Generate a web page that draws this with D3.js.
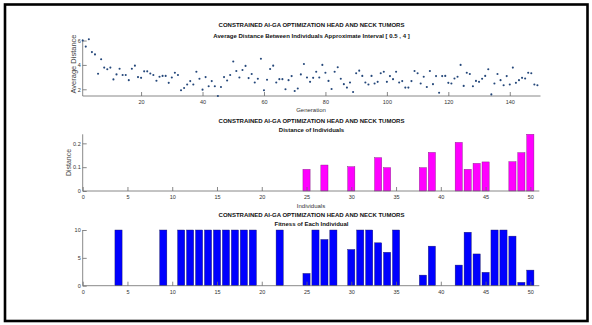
<!DOCTYPE html>
<html><head><meta charset="utf-8">
<script src="https://cdn.jsdelivr.net/npm/d3@7"></script>
<style>
html,body{margin:0;padding:0;background:#fff;}
svg{display:block;font-family:"Liberation Sans",Arial,sans-serif;}
</style></head>
<body>
<svg id="chart" width="592" height="325"></svg>
<script>
// ---- data ----
const mainTitle = "CONSTRAINED AI-GA OPTIMIZATION HEAD AND NECK TUMORS";
const subTitles = ["Average Distance Between Individuals Approximate Interval [ 0.5 , 4 ]",
                   "Distance of Individuals", "Fitness of Each Individual"];
const avgDistance = [
 6.0,5.5,6.1,5.05,4.86,3.27,4.47,3.78,3.64,3.78,
 2.81,3.22,3.69,3.17,3.17,2.75,3.69,3.94,3.0,2.94,
 3.47,3.47,3.3,3.17,2.7,3.03,3.1,3.1,2.53,2.97,
 3.36,3.17,1.92,2.1,2.39,2.67,2.39,3.44,2.86,1.97,
 3.0,2.25,2.67,2.25,1.45,2.19,3.0,2.72,3.17,4.28,
 3.5,2.97,3.58,3.92,2.92,3.25,2.56,2.86,4.5,1.92,
 2.78,3.67,3.94,2.56,2.83,2.83,2.0,2.75,3.08,1.86,
 2.06,3.22,4.08,2.97,2.61,2.94,3.44,2.97,4.0,3.36,
 2.69,2.03,3.44,3.81,2.86,2.42,2.14,2.56,1.78,3.31,
 3.53,3.1,2.56,2.39,3.1,2.47,2.61,3.31,3.44,2.61,
 3.08,2.83,3.44,2.56,2.67,2.14,2.14,2.67,3.5,3.31,
 2.47,3.03,2.19,3.5,2.42,3.08,1.72,3.08,3.1,2.53,
 2.47,2.89,3.03,4.0,2.28,3.36,3.25,2.25,2.69,2.61,
 2.86,3.1,3.64,1.58,2.47,3.25,2.75,2.33,3.08,2.39,
 3.78,2.53,2.75,2.94,2.89,3.36,3.31,2.39,2.33
];
const individuals = [1,2,3,4,5,6,7,8,9,10,11,12,13,14,15,16,17,18,19,20,21,22,23,24,25,
                     26,27,28,29,30,31,32,33,34,35,36,37,38,39,40,41,42,43,44,45,46,47,48,49,50];
const distance = [0,0,0,0,0,0,0,0,0,0, 0,0,0,0,0,0,0,0,0,0, 0,0,0,0,0.091,
                  0,0.109,0,0,0.102, 0,0,0.140,0.098,0, 0,0,0.098,0.162,0,
                  0,0.204,0.091,0.116,0.122, 0,0,0.123,0.161,0.238];
const fitness = [0,0,0,10,0,0,0,0,10,0, 10,10,10,10,10,10,10,10,10,0, 0,10,0,0,2.2,
                 10,8.3,10,0,6.5, 10,10,7.7,6.0,10, 0,0,1.9,7.1,0,
                 0,3.7,9.6,5.7,2.4, 10,10,8.9,0.6,2.8];
const genTicks = [20,40,60,80,100,120,140];
const avgTicks = [2,4,6];
const indTicks = [0,5,10,15,20,25,30,35,40,45,50];
const distTicks = [0,0.1,0.2];
const fitTicks = [0,5,10];

// ---- drawing ----
const svg = d3.select("#chart");
const axisCol = "#6a6a6a", textCol = "#333";
const xL = 82.7;

// frame
svg.append("rect").attr("x",5).attr("y",4.5).attr("width",582.5).attr("height",316.5)
  .attr("fill","none").attr("stroke","#000").attr("stroke-width",2.6);

function titles(y1, y2, sub){
  svg.append("text").attr("x",311.5).attr("y",y1).attr("text-anchor","middle")
    .attr("font-size",6).attr("font-weight","bold").attr("fill","#111").text(mainTitle);
  svg.append("text").attr("x",311.5).attr("y",y2).attr("text-anchor","middle")
    .attr("font-size",6).attr("font-weight","bold").attr("fill","#111").text(sub);
}

function axes(x, y, xt, yt, xfmt, yfmt){
  const [x0,x1] = x.range(), [y0,y1] = y.range();
  const gx = svg.append("g").attr("transform",`translate(0,${y0})`)
    .call(d3.axisBottom(x).tickValues(xt).tickSize(-4).tickPadding(4).tickFormat(xfmt));
  const gy = svg.append("g").attr("transform",`translate(${x0},0)`)
    .call(d3.axisLeft(y).tickValues(yt).tickSize(-4).tickPadding(2).tickFormat(yfmt));
  [gx,gy].forEach(g=>{
    g.select(".domain").attr("stroke",axisCol).attr("stroke-width",0.8);
    g.selectAll(".tick line").attr("stroke",axisCol).attr("stroke-width",0.8);
    g.selectAll(".tick text").attr("fill",textCol).attr("font-size",5.5)
      .attr("font-family","Liberation Sans, Arial, sans-serif");
  });
  gx.select(".domain").attr("d",`M${x0},0H${x1}`);
  gy.select(".domain").attr("d",`M0,${y0}V${y1}`);
}

// --- top: scatter ---
titles(27, 37.5, subTitles[0]);
const xg = d3.scaleLinear().domain([1,150]).range([xL,540.5]);
const ya = d3.scaleLinear().domain([1.45,6.1]).range([96,39.3]);
axes(xg, ya, genTicks, avgTicks, d3.format("d"), d3.format("d"));
svg.append("g").selectAll("circle").data(avgDistance).join("circle")
  .attr("cx",(d,i)=>xg(i+1)).attr("cy",d=>ya(d)).attr("r",1.05)
  .attr("fill","#24477a");
svg.append("text").attr("x",311).attr("y",112).attr("text-anchor","middle")
  .attr("font-size",6).attr("fill",textCol).text("Generation");
svg.append("text").attr("transform",`translate(75.5,64) rotate(-90)`).attr("text-anchor","middle")
  .attr("font-size",7.5).attr("fill","#444").text("Average Distance");

// --- middle: distance bars ---
titles(122.5, 131.5, subTitles[1]);
const xi = d3.scaleLinear().domain([0,51]).range([xL,539.3]);
const bw = 0.8*(xi(1)-xi(0));
const yd = d3.scaleLinear().domain([0,0.238]).range([191,134.3]);
svg.append("g").selectAll("rect").data(individuals.map((k,i)=>({k,v:distance[i]})).filter(d=>d.v>0))
  .join("rect").attr("x",d=>xi(d.k)-bw/2).attr("width",bw)
  .attr("y",d=>yd(d.v)).attr("height",d=>yd(0)-yd(d.v))
  .attr("fill","#ff00ff").attr("stroke","#7a1a7a").attr("stroke-width",0.4);
axes(xi, yd, indTicks, distTicks, d3.format("d"), d=>d===0?"0":d3.format(".1f")(d));
svg.append("text").attr("x",311).attr("y",207.5).attr("text-anchor","middle")
  .attr("font-size",6).attr("fill",textCol).text("Individuals");
svg.append("text").attr("transform",`translate(70.5,162.5) rotate(-90)`).attr("text-anchor","middle")
  .attr("font-size",7).attr("fill","#444").text("Distance");

// --- bottom: fitness bars ---
titles(216.5, 226, subTitles[2]);
const yf = d3.scaleLinear().domain([0,10]).range([285.7,230]);
svg.append("g").selectAll("rect").data(individuals.map((k,i)=>({k,v:fitness[i]})).filter(d=>d.v>0))
  .join("rect").attr("x",d=>xi(d.k)-bw/2).attr("width",bw)
  .attr("y",d=>yf(d.v)).attr("height",d=>yf(0)-yf(d.v))
  .attr("fill","#0000ff").attr("stroke","#1a1a5a").attr("stroke-width",0.4);
axes(xi, yf, indTicks, fitTicks, d3.format("d"), d3.format("d"));
</script>
</body></html>
